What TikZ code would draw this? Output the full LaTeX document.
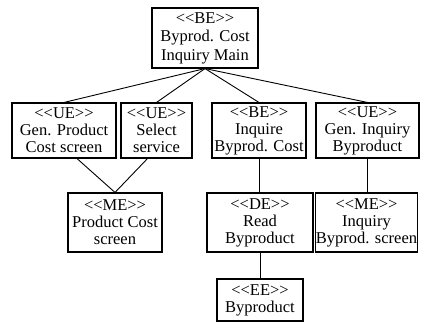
\documentclass[tikz,border=0pt]{standalone}
\usepackage{fontspec}
\setmainfont{Liberation Serif}
\newcommand{\lsg}{{<}{<}}
\newcommand{\rsg}{{>}{>}}
\begin{document}
\begin{tikzpicture}[x=1pt,y=-1pt,
  box/.style={draw,line width=1.1pt,inner sep=0pt,align=center,font=\fontsize{16.5}{17}\selectfont},
  conn/.style={line width=0.9pt}]
\useasboundingbox (0,0) rectangle (424,322);
\node[box,minimum width=106pt,minimum height=60pt,font=\fontsize{16.5}{18.5}\selectfont] (top) at (205,38) {\lsg BE\rsg\\Byprod. Cost\\Inquiry Main};
\node[box,minimum width=104pt,minimum height=55pt] (b1) at (64,130.5) {\lsg UE\rsg\\Gen. Product\\Cost screen};
\node[box,minimum width=71pt,minimum height=55pt] (b2) at (156.5,130.5) {\lsg UE\rsg\\Select\\service};
\node[box,minimum width=94pt,minimum height=55pt] (b3) at (259,130.5) {\lsg BE\rsg\\Inquire\\Byprod. Cost};
\node[box,minimum width=103pt,minimum height=55pt] (b4) at (367.5,130.5) {\lsg UE\rsg\\Gen. Inquiry\\Byproduct};
\node[box,minimum width=94pt,minimum height=59pt] (me1) at (115,222.5) {\lsg ME\rsg\\Product Cost\\screen};
\node[box,minimum width=106pt,minimum height=59pt] (de) at (260,222.5) {\lsg DE\rsg\\Read\\Byproduct};
\node[box,minimum width=101pt,minimum height=59pt] (me2) at (366.5,222.5) {\lsg ME\rsg\\Inquiry\\Byprod. screen};
\node[box,minimum width=86pt,minimum height=42pt] (ee) at (260,300) {\lsg EE\rsg\\Byproduct};
\draw[conn] (top.south) -- (b1.north);
\draw[conn] (top.south) -- (b2.north);
\draw[conn] (top.south) -- (b3.north);
\draw[conn] (top.south) -- (b4.north);
\draw[conn] ([xshift=13pt]b1.south) -- (me1.north);
\draw[conn] ([xshift=-9pt]b2.south) -- (me1.north);
\draw[conn] (b3.south) -- (b3.south |- de.north);
\draw[conn] (b4.south) -- (b4.south |- me2.north);
\draw[conn] (ee.north |- de.south) -- (ee.north);
\end{tikzpicture}
\end{document}
